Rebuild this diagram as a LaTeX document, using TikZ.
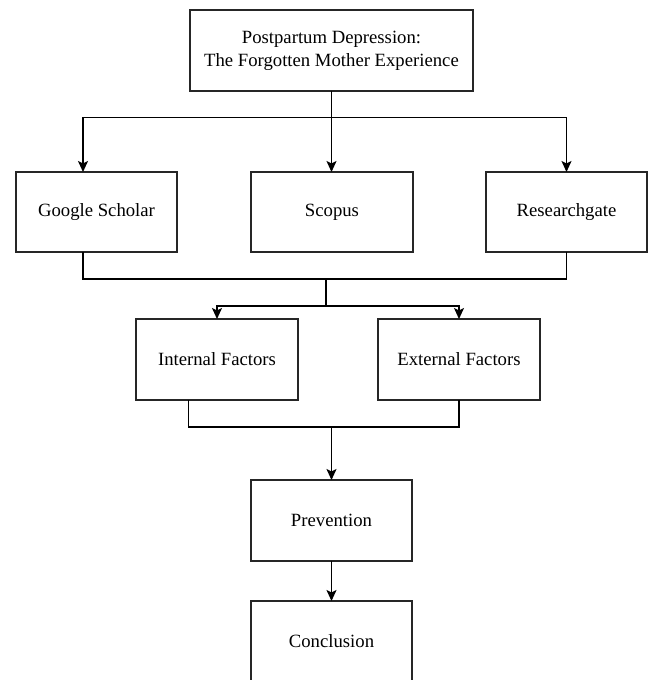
\documentclass[tikz,border=0pt]{standalone}
\usepackage{fontspec}
\setmainfont{Liberation Serif}
\usetikzlibrary{arrows.meta,calc}
\begin{document}
\begin{tikzpicture}[x=1pt,y=-1pt,
  box/.style={draw=black!85, line width=1.5pt, inner sep=0pt, outer sep=0pt, align=center,
              font=\fontsize{18.7}{23}\selectfont, minimum height=80pt},
  conn/.style={line width=1.5pt, draw=black},
  arr/.style={conn, -{Stealth[length=11pt,width=10pt,inset=2.5pt]}}]
\useasboundingbox (0,0) rectangle (649,680);
\clip (0,0) rectangle (649,680);

\node[box, minimum width=283pt, minimum height=81pt] (top) at (331.5,50.5)
  {Postpartum Depression:\\The Forgotten Mother Experience};
\node[box, minimum width=161pt] (gs) at (96.5,212) {Google Scholar};
\node[box, minimum width=162pt] (sc) at (332,212) {Scopus};
\node[box, minimum width=161pt] (rg) at (566.5,212) {Researchgate};
\node[box, minimum width=162pt, minimum height=81pt] (inf) at (217,359.5) {Internal Factors};
\node[box, minimum width=162pt, minimum height=81pt] (exf) at (459,359.5) {External Factors};
\node[box, minimum width=161pt, minimum height=81pt] (prev) at (331.5,520.5) {Prevention};
\node[box, minimum width=161pt, minimum height=81pt] (conc) at (331.5,641.5) {Conclusion};

% top -> sources
\coordinate (b1) at (331.5,117.7);
\coordinate (gsIn) at ($(gs.north)+(-13.5,0)$);
\draw[arr] (top.south) -- (top.south |- sc.north);
\draw[arr] (b1) -| (gsIn);
\draw[arr] (b1) -| (rg.north);

% sources -> factors
\coordinate (gsOut) at ($(gs.south)+(-13.5,0)$);
\coordinate (m1) at (326,279);
\coordinate (m2) at (326,306);
\draw[conn] (gsOut) |- (m1) -| (rg.south);
\draw[conn] (m1) -- (m2);
\draw[arr] (m2) -| (inf.north);
\draw[arr] (m2) -| (exf.north);

% factors -> prevention
\coordinate (infOut) at ($(inf.south)+(-28.3,0)$);
\coordinate (m3) at (331.5,427);
\draw[conn] (infOut) |- (m3) -| (exf.south);
\draw[arr] (m3) -- (prev.north);

% prevention -> conclusion
\draw[arr] (prev.south) -- (conc.north);
\end{tikzpicture}
\end{document}
